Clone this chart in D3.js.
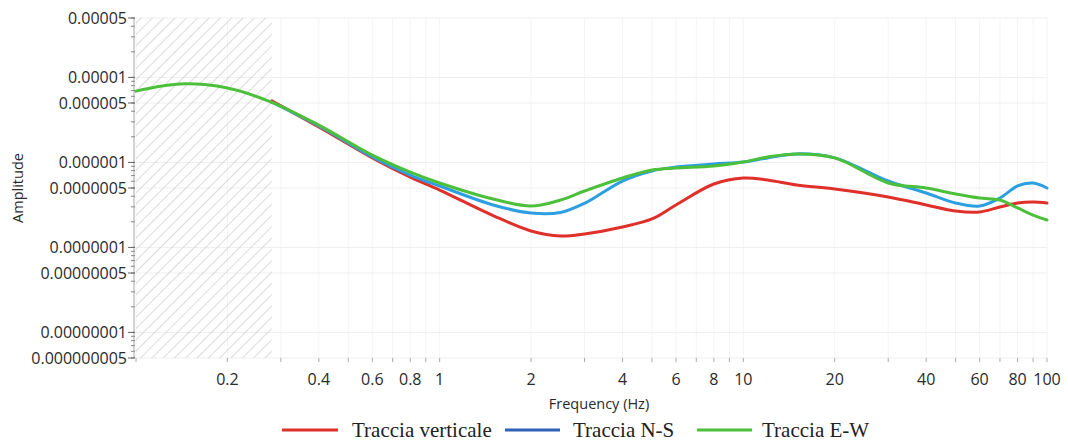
<!DOCTYPE html>
<html><head><meta charset="utf-8">
<script src="https://cdn.jsdelivr.net/npm/d3@7"></script>
<style>body{margin:0;background:#fff}svg{display:block}</style>
</head><body>
<svg id="c" width="1068" height="442"></svg>
<script>
const freqGreen = [0.1,0.14,0.2,0.28,0.4,0.6,0.8,1,1.5,2,2.5,3,4,5,6,8,10,12,15,20,30,40,50,60,70,80,90,100];
const ampGreen  = [6.9e-6,8.37e-6,7.5e-6,5.1e-6,2.75e-6,1.22e-6,7.7e-7,5.73e-7,3.71e-7,3.07e-7,3.61e-7,4.61e-7,6.56e-7,8.15e-7,8.6e-7,9.08e-7,1.01e-6,1.16e-6,1.26e-6,1.13e-6,5.73e-7,5.0e-7,4.25e-7,3.81e-7,3.61e-7,2.91e-7,2.4e-7,2.1e-7];
const freqBR = [0.28,0.4,0.6,0.8,1,1.5,2,2.5,3,4,5,6,8,10,12,15,20,30,40,50,60,70,80,90,100];
const ampBlue = [5.1e-6,2.68e-6,1.16e-6,7.1e-7,5.28e-7,3.16e-7,2.54e-7,2.58e-7,3.3e-7,6.04e-7,7.93e-7,8.83e-7,9.58e-7,1.01e-6,1.13e-6,1.26e-6,1.13e-6,6.04e-7,4.37e-7,3.33e-7,3.07e-7,3.81e-7,5.28e-7,5.73e-7,5.0e-7];
const ampRed  = [5.3e-6,2.61e-6,1.13e-6,6.7e-7,4.73e-7,2.37e-7,1.56e-7,1.36e-7,1.44e-7,1.74e-7,2.16e-7,3.16e-7,5.57e-7,6.56e-7,6.21e-7,5.42e-7,4.86e-7,3.92e-7,3.16e-7,2.68e-7,2.61e-7,2.99e-7,3.33e-7,3.42e-7,3.33e-7];
const yTickValues = [5e-5,1e-5,5e-6,1e-6,5e-7,1e-7,5e-8,1e-8,5e-9];
const yTickLabels = ["0.00005","0.00001","0.000005","0.000001","0.0000005","0.0000001","0.00000005","0.00000001","0.000000005"];
const xTickValues = [0.2,0.4,0.6,0.8,1,2,4,6,8,10,20,40,60,80,100];
const hatchEnd = 0.28;
const seriesNames = ["Traccia verticale","Traccia N-S","Traccia E-W"];

const svg = d3.select("#c");
const L = 136, R = 1047, T = 18, B = 358;
const x = d3.scaleLog().domain([0.1,100]).range([L,R]);
const y = d3.scaleLog().domain([5e-9,5e-5]).range([B,T]);
const tickFont = "Open Sans, Segoe UI, sans-serif";

const defs = svg.append("defs");
const pat = defs.append("pattern").attr("id","hatch").attr("patternUnits","userSpaceOnUse")
  .attr("width",8).attr("height",8).attr("patternTransform","rotate(45)");
pat.append("line").attr("x1",0).attr("y1",0).attr("x2",0).attr("y2",8)
  .attr("stroke","#c8c8c8").attr("stroke-width",1.3);

const minors = [];
for (let e=-9; e<=-5; e++) for (let k=1;k<=9;k++){ const v=k*Math.pow(10,e); if(v>=4.99e-9 && v<=5.01e-5) minors.push(v);}
const xMinors = [];
for (let e=-1; e<=1; e++) for (let k=1;k<=9;k++) xMinors.push(k*Math.pow(10,e));
xMinors.push(100);

const g = svg.append("g");
g.selectAll("line.vg").data(xMinors).join("line")
  .attr("x1",d=>x(d)).attr("x2",d=>x(d)).attr("y1",T).attr("y2",B)
  .attr("stroke","#f4f4f4").attr("stroke-width",1);
g.selectAll("line.hg").data(yTickValues).join("line")
  .attr("x1",L).attr("x2",R).attr("y1",d=>y(d)).attr("y2",d=>y(d))
  .attr("stroke","#efefef").attr("stroke-width",1);

svg.append("rect").attr("x",L).attr("y",T).attr("width",x(hatchEnd)-L).attr("height",B-T)
  .attr("fill","url(#hatch)");

const ya = svg.append("g");
ya.append("line").attr("x1",L-2).attr("x2",L-2).attr("y1",T).attr("y2",B).attr("stroke","#c4c4c4").attr("stroke-width",1.5);
ya.selectAll("line.mt").data(minors).join("line")
  .attr("x1",L-5).attr("x2",L-1).attr("y1",d=>y(d)).attr("y2",d=>y(d))
  .attr("stroke","#888").attr("stroke-width",1);
ya.selectAll("line.Mt").data(yTickValues).join("line")
  .attr("x1",L-8).attr("x2",L-1).attr("y1",d=>y(d)).attr("y2",d=>y(d))
  .attr("stroke","#666").attr("stroke-width",1);
ya.selectAll("text").data(yTickValues).join("text")
  .attr("x",L-9).attr("y",d=>y(d)).attr("dy","0.35em").attr("text-anchor","end")
  .attr("font-family",tickFont).attr("font-size",16).attr("fill","#2a2a2a")
  .text((d,i)=>yTickLabels[i]);

const xa = svg.append("g");
xa.selectAll("line.mt").data(xMinors).join("line")
  .attr("x1",d=>x(d)).attr("x2",d=>x(d)).attr("y1",B).attr("y2",B+4)
  .attr("stroke","#aaa").attr("stroke-width",1);
xa.selectAll("text").data(xTickValues).join("text")
  .attr("x",d=>x(d)).attr("y",B+27).attr("text-anchor","middle")
  .attr("font-family",tickFont).attr("font-size",16).attr("fill","#2a2a2a")
  .text(d=>String(d));

svg.append("text").attr("x",599).attr("y",409).attr("text-anchor","middle")
  .attr("font-family",tickFont).attr("font-size",14.5).attr("fill","#2a2a2a")
  .text("Frequency (Hz)");
svg.append("text").attr("transform","translate(23,188) rotate(-90)").attr("text-anchor","middle")
  .attr("font-family",tickFont).attr("font-size",14.5).attr("fill","#2a2a2a")
  .text("Amplitude");

const line = d3.line().x(d=>x(d[0])).y(d=>y(d[1])).curve(d3.curveCatmullRom.alpha(0.5));
const series = [
  {f:freqBR, a:ampRed, c:"#e0302a"},
  {f:freqBR, a:ampBlue, c:"#2d9fe0"},
  {f:freqGreen, a:ampGreen, c:"#4cc03a"}
];
series.forEach(s=>{
  svg.append("path").datum(s.f.map((f,i)=>[f,s.a[i]]))
    .attr("d",line).attr("fill","none").attr("stroke",s.c).attr("stroke-width",3)
    .attr("stroke-linejoin","round").attr("stroke-linecap","round");
});

const legend = [
  {x1:282,x2:338,tx:352,c:"#e0302a"},
  {x1:505,x2:560,tx:573,c:"#2f62b8"},
  {x1:697,x2:752,tx:762,c:"#4cc03a"}
];
legend.forEach((l,i)=>{
  svg.append("line").attr("x1",l.x1).attr("x2",l.x2).attr("y1",430).attr("y2",430)
    .attr("stroke",l.c).attr("stroke-width",3);
  svg.append("text").attr("x",l.tx).attr("y",437)
    .attr("font-family","Liberation Serif, Times New Roman, serif").attr("font-size",21).attr("fill","#222")
    .text(seriesNames[i]);
});
</script>
</body></html>
